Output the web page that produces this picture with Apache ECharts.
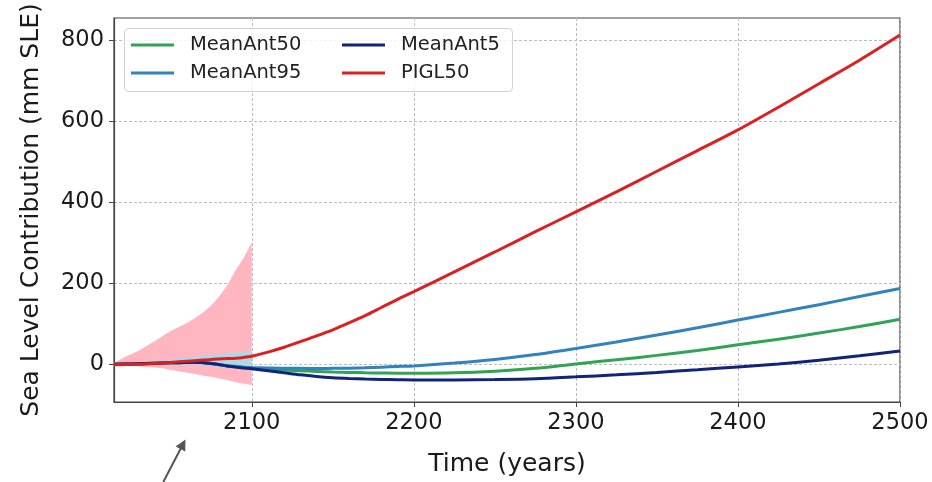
<!DOCTYPE html>
<html>
<head>
<meta charset="utf-8">
<script src="https://cdn.jsdelivr.net/npm/echarts@6/dist/echarts.min.js"></script>
<style>
  html, body { margin: 0; padding: 0; background: #fff; }
  #chart { width: 932px; height: 482px; }
</style>
</head>
<body>
<div id="chart"></div>
<script>
// Years at which the projected curves are sampled
const years = [2015, 2025, 2035, 2045, 2055, 2065, 2075, 2085, 2090, 2095, 2100,
  2110, 2120, 2130, 2140, 2150, 2160, 2170, 2180, 2190, 2200,
  2225, 2250, 2275, 2300, 2325, 2350, 2375, 2400, 2425, 2450, 2475, 2500];

// Sea level contribution (mm SLE)
const meanAnt50 = [0, 1, 2, 3, 4, 5, 2, -4, -6, -8, -9,
  -12, -14, -16, -17.5, -19, -20, -21, -21.5, -22, -22,
  -21, -17, -10, 1, 11, 22, 34, 48, 62, 77, 93, 111];
const meanAnt95 = [0, 1, 2, 3, 4, 5, 2, -4, -5, -7, -8,
  -9, -10, -10, -10.5, -10, -9.5, -8.5, -7, -5.5, -4,
  3, 12, 24, 39, 55, 72, 90, 109, 128, 147, 167, 187];
const meanAnt5 = [0, 1, 2, 3, 4, 5, 2, -4, -7, -9, -11,
  -16, -21, -26, -30, -33, -35, -36.5, -37.5, -38, -38.5,
  -38.5, -37.5, -35.5, -31, -26, -20, -13.5, -6.5, 1, 10, 21, 33];
const pigl50 = [-1, 0, 1, 3, 6, 9, 12, 14, 15, 17, 20,
  30, 42, 56, 70, 85, 102, 120, 140, 160, 179,
  228, 277, 327, 376, 425, 476, 527, 578, 634, 692, 750, 812];

// Uncertainty envelopes up to 2100
const bandYears = [2015, 2020, 2025, 2030, 2035, 2040, 2045, 2050, 2055, 2060,
  2065, 2070, 2075, 2080, 2085, 2090, 2095, 2100];
const piglLow = [-2, -3, -4, -5, -6, -8, -10, -14, -17, -21, -24, -28, -31, -35, -39, -44, -48, -51];
const piglHigh = [3, 14, 24, 33, 45, 57, 70, 82, 92, 102, 114, 128, 145, 168, 195, 232, 262, 300];
const antLow = [-2, -2, -2, -2, -2, -2, -2, -2, -2, -1, -1, -2, -3, -6, -8, -10, -12, -14];
const antHigh = [1, 2, 3, 5, 6, 8, 10, 12, 15, 17, 19, 21, 23, 25, 27, 29, 31, 34];

// Tick labels
const xTicks = [2100, 2200, 2300, 2400, 2500];
const yTicks = [0, 200, 400, 600, 800];

const FONT = 'DejaVu Sans';
const pair = (xs, ys) => xs.map((x, i) => [x, ys[i]]);

// Filled envelope between a low and a high curve, drawn as one polygon
function band(name, lo, hi, color) {
  const rows = bandYears.map((x, i) => [x, lo[i], hi[i]]);
  return {
    name: name, type: 'custom', silent: true, z: 1,
    data: rows,
    encode: { x: 0, y: [1, 2] },
    renderItem: function (params, api) {
      if (params.dataIndex !== 0) return null;
      const top = rows.map(r => api.coord([r[0], r[2]]));
      const bottom = rows.map(r => api.coord([r[0], r[1]])).reverse();
      return {
        type: 'polygon',
        shape: { points: top.concat(bottom) },
        style: { fill: color }
      };
    }
  };
}

function curve(name, values, color, z) {
  return {
    name: name, type: 'line', data: pair(years, values), symbol: 'none',
    smooth: 0.3, lineStyle: { color: color, width: 3 }, itemStyle: { color: color }, z: z
  };
}

const chart = echarts.init(document.getElementById('chart'), null, { renderer: 'canvas' });

const legendText = { fontFamily: FONT, fontSize: 19.5, color: '#222', padding: [0, 0, 0, 11], lineHeight: 20 };
const plainNumber = v => String(v);

chart.setOption({
  animation: false,
  backgroundColor: '#fff',
  grid: { left: 114, right: 32, top: 18, bottom: 80, show: true, borderColor: '#444', borderWidth: 1.2, backgroundColor: 'transparent' },
  xAxis: {
    type: 'value', min: 2015, max: 2500,
    name: 'Time (years)', nameLocation: 'middle', nameGap: 50,
    nameTextStyle: { fontFamily: FONT, fontSize: 25, color: '#1a1a1a' },
    axisLine: { show: true, onZero: false, lineStyle: { color: '#444', width: 1.2 } },
    axisTick: { show: true, customValues: xTicks, length: 5, lineStyle: { color: '#444' } },
    axisLabel: { customValues: xTicks, formatter: plainNumber, fontFamily: FONT, fontSize: 22.5, color: '#1a1a1a', margin: 10 },
    splitLine: { show: true, lineStyle: { color: '#bdbdbd', type: [3, 2], width: 1 } }
  },
  yAxis: {
    type: 'value', min: -93, max: 854,
    name: 'Sea Level Contribution (mm SLE)', nameLocation: 'middle', nameGap: 70,
    nameTextStyle: { fontFamily: FONT, fontSize: 25, color: '#1a1a1a' },
    axisLine: { show: true, onZero: false, lineStyle: { color: '#444', width: 1.2 } },
    axisTick: { show: true, customValues: yTicks, length: 5, lineStyle: { color: '#444' } },
    axisLabel: { customValues: yTicks, formatter: plainNumber, fontFamily: FONT, fontSize: 22.5, color: '#1a1a1a', margin: 10 },
    splitLine: { show: true, lineStyle: { color: '#bdbdbd', type: [3, 2], width: 1 } }
  },
  legend: [
    {
      left: 131, top: 35, orient: 'vertical', padding: 0, itemGap: 8,
      itemWidth: 43, itemHeight: 3, icon: 'rect',
      data: ['MeanAnt50', 'MeanAnt95'], textStyle: legendText, z: 6
    },
    {
      left: 342, top: 35, orient: 'vertical', padding: 0, itemGap: 8,
      itemWidth: 43, itemHeight: 3, icon: 'rect',
      data: ['MeanAnt5', 'PIGL50'], textStyle: legendText, z: 6
    }
  ],
  graphic: [
    {
      type: 'rect', z: 5, silent: true,
      shape: { x: 124.5, y: 28.5, width: 388, height: 63, r: 4 },
      style: { fill: 'rgba(255,255,255,0.8)', stroke: '#d0d0d0', lineWidth: 1 }
    },
    {
      type: 'line', z: 5, silent: true,
      shape: { x1: 163.3, y1: 482, x2: 181, y2: 448 },
      style: { stroke: '#555', lineWidth: 2 }
    },
    {
      type: 'polygon', z: 5, silent: true,
      shape: { points: [[185.5, 439.5], [185.2, 451.5], [175.6, 446.5]] },
      style: { fill: '#555' }
    }
  ],
  series: [
    band('PIGL range', piglLow, piglHigh, '#ffb6c1'),
    band('MeanAnt range', antLow, antHigh, '#add8e6'),
    curve('MeanAnt50', meanAnt50, '#31a354', 2),
    curve('MeanAnt95', meanAnt95, '#3182bd', 2),
    curve('MeanAnt5', meanAnt5, '#10257a', 3),
    curve('PIGL50', pigl50, '#dc2020', 4)
  ]
});
</script>
</body>
</html>
